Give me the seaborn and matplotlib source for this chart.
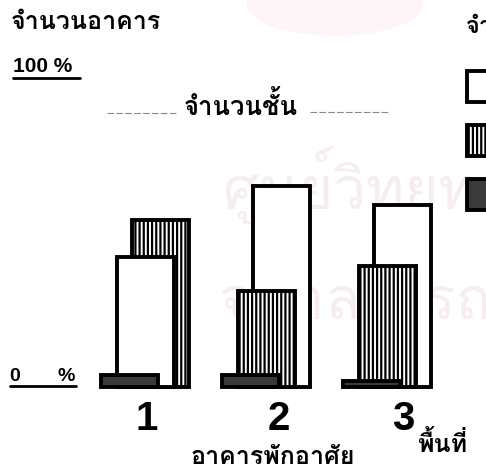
"""
Share of buildings by number of floors in each residential area.
"""
import matplotlib
matplotlib.use("Agg")
import matplotlib.pyplot as plt
from matplotlib.lines import Line2D
from matplotlib.patches import Ellipse
import seaborn as sns

sns.set_style('white', {'axes.spines.left': False,
                        'axes.spines.right': False,
                        'axes.spines.top': False,
                        'axes.spines.bottom': False})
# Loma keeps Thai tone marks stacked without text shaping
THAI = ['Loma', 'Garuda', 'Waree', 'Sarabun', 'DejaVu Sans']
LATIN = ['Liberation Sans', 'DejaVu Sans']
plt.rcParams['font.family'] = THAI
plt.rcParams['text.color'] = 'black'
plt.rcParams['xtick.color'] = 'black'
plt.rcParams['hatch.linewidth'] = 1.6

# data (percent of buildings)
areas = ["1", "2", "3"]
series = ["1 ชั้น", "2 ชั้น", "3 ชั้นขึ้นไป"]
one_floor = [42, 65, 59]
two_floors = [54, 31, 39]
three_floors = [4, 4, 2]

faces = ['white', 'white', '#3a3a3a']
hatches = [None, '||||', None]

W, H = 486, 477          # figure size in px
GROUP_PX = 121           # px between area groups
STEP = 15.5 / GROUP_PX   # stagger of overlapping bars


def fx(px):
    return px / W


def fy(px):
    return 1 - px / H


fig = plt.figure(figsize=(W / 100, H / 100), dpi=100)

# faint watermark of the scanned page
fig.patches.append(Ellipse((fx(335), fy(5)), 0.36, 0.13, transform=fig.transFigure,
                           color='#fdf5f8', zorder=-2))
fig.text(fx(222), fy(185), "ศูนย์วิทยทรัพยากร", fontsize=42, color='#f6edf3',
         va='center', zorder=-1)
fig.text(fx(218), fy(295), "จุฬาลงกรณ์มหาวิทยาลัย", fontsize=42, color='#f6edf3',
         va='center', zorder=-1)

ax = fig.add_axes([0, fy(388), 1, (388 - 79) / H])
ax.patch.set_alpha(0)

containers = []
for vals, face, hatch in zip([one_floor, two_floors, three_floors], faces, hatches):
    sns.barplot(x=areas, y=vals, color=face, saturation=1, width=57 / GROUP_PX,
                edgecolor='black', linewidth=2.8, hatch=hatch, errorbar=None, ax=ax)
    containers.append(ax.containers[-1])

# bars of one area overlap: the shortest sits in front, taller ones step right
all_vals = [one_floor, two_floors, three_floors]
for i in range(len(areas)):
    order = sorted(range(len(all_vals)), key=lambda j: all_vals[j][i])
    for rank, j in enumerate(order):
        bar = containers[j][i]
        bar.set_x(bar.get_x() + rank * STEP)
        bar.set_zorder(5 - rank)
        bar.set_clip_on(False)

ax.set_xlim(-129.5 / GROUP_PX, (W - 129.5) / GROUP_PX)
ax.set_ylim(0, 100)
ax.set_yticks([])
ax.set_xticks([0.14, 1.23, 2.26], areas)
ax.tick_params(axis='x', length=0, pad=9, labelsize=29)
for t in ax.get_xticklabels():
    t.set_fontfamily(LATIN)
    t.set_fontweight('bold')
ax.set(xlabel='', ylabel='')

# axis annotations
bold = dict(fontweight='bold')
fig.text(fx(11), fy(11), "จำนวนอาคาร", fontsize=18, va='top', **bold)
fig.text(fx(13), fy(72), "100 %", fontsize=15, fontweight='bold', family=LATIN,
         va='baseline')
fig.add_artist(Line2D([fx(13), fx(80)], [fy(79), fy(79)], color='black', lw=2))
fig.text(fx(9), fy(381), "0", fontsize=14, fontweight='bold', family=LATIN,
         va='baseline')
fig.text(fx(57), fy(381), "%", fontsize=14, fontweight='bold', family=LATIN,
         va='baseline')
fig.add_artist(Line2D([fx(10), fx(76)], [fy(387), fy(387)], color='black', lw=2))

fig.text(fx(184), fy(91), "จำนวนชั้น", fontsize=18.5, va='top', **bold)
for x0, x1, y in [(107, 178, 114), (310, 388, 113)]:
    fig.add_artist(Line2D([fx(x0), fx(x1)], [fy(y), fy(y)], color='#8a8a8a',
                          lw=0.8, ls=(0, (6, 2))))

fig.text(fx(417), fy(452), "พื้นที่", fontsize=18, va='baseline', **bold)
fig.text(fx(273), fy(464), "อาคารพักอาศัย", fontsize=18, ha='center',
         va='baseline', **bold)

# legend sits at the right edge and runs off the page
fig.text(fx(466), fy(14), "จำนวนชั้น", fontsize=17, va='top', **bold)
ax.legend(handles=[c[0] for c in containers], labels=series, loc='upper left',
          bbox_to_anchor=(fx(467), fy(72)), bbox_transform=fig.transFigure,
          frameon=False, borderpad=0, borderaxespad=0, fontsize=12,
          handleheight=2.45, handlelength=2.5, labelspacing=1.4)

fig.savefig("out.png", dpi=100)
